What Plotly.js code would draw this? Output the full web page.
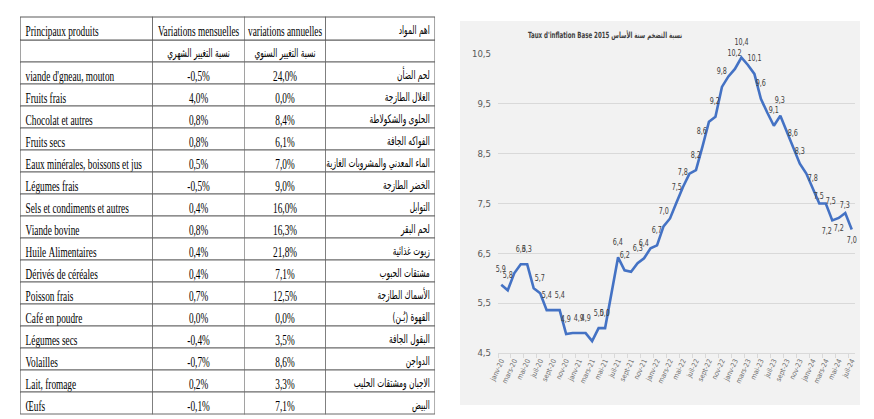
<!DOCTYPE html>
<html><head><meta charset="utf-8">
<script src="https://cdn.plot.ly/plotly-3.0.1.min.js"></script>
<style>
html,body{margin:0;padding:0;background:#fff;width:874px;height:419px;overflow:hidden;}
#table{position:absolute;left:20px;top:16px;width:670px;height:402px;transform:scaleX(0.62);transform-origin:0 0;}
#chart{position:absolute;left:460px;top:21px;width:400px;height:384px;}
#chart .gtitle{transform:scaleX(0.72);transform-box:fill-box;transform-origin:left center;}
#chart .annotation-text{transform:scaleX(0.75);transform-box:fill-box;transform-origin:center;}
</style></head><body>
<div id="table"></div><div id="chart"></div>
<script>
// ---------- table data ----------
const headerFr = ["Principaux produits", "Variations mensuelles", "variations annuelles", "اهم المواد"];
const headerAr = ["", "نسبة التغيير الشهري", "نسبة التغيير السنوي", ""];
const productsFr = ["viande d'gneau, mouton", "Fruits frais", "Chocolat et autres", "Fruits secs",
  "Eaux minérales, boissons et jus", "Légumes frais", "Sels et condiments et autres", "Viande bovine",
  "Huile Alimentaires", "Dérivés de céréales", "Poisson frais", "Café en poudre", "Légumes secs",
  "Volailles", "Lait, fromage", "Œufs"];
const productsAr = ["لحم الضأن", "الغلال الطازجة", "الحلوى والشكولاطة", "الفواكه الجافة",
  "الماء المعدني والمشروبات الغازية", "الخضر الطازجة", "التوابل", "لحم البقر", "زيوت غذائية",
  "مشتقات الحبوب", "الأسماك الطازجة", "القهوة (بُـن)", "البقول الجافة", "الدواجن",
  "الاجبان ومشتقات الحليب", "البيض"];
const monthlyChange = [-0.5, 4.0, 0.8, 0.8, 0.5, -0.5, 0.4, 0.8, 0.4, 0.4, 0.7, 0.0, -0.4, -0.7, 0.2, -0.1];
const annualChange = [24.0, 0.0, 8.4, 6.1, 7.0, 9.0, 16.0, 16.3, 21.8, 7.1, 12.5, 0.0, 3.5, 8.6, 3.3, 7.1];

// ---------- chart data ----------
const chartTitle = "Taux d'inflation Base 2015 نسبة التضخم سنة الأساس";
const months = [
  "janv-20","févr-20","mars-20","avr-20","mai-20","juin-20","juil-20","août-20","sept-20","oct-20","nov-20","déc-20",
  "janv-21","févr-21","mars-21","avr-21","mai-21","juin-21","juil-21","août-21","sept-21","oct-21","nov-21","déc-21",
  "janv-22","févr-22","mars-22","avr-22","mai-22","juin-22","juil-22","août-22","sept-22","oct-22","nov-22","déc-22",
  "janv-23","févr-23","mars-23","avr-23","mai-23","juin-23","juil-23","août-23","sept-23","oct-23","nov-23","déc-23",
  "janv-24","févr-24","mars-24","avr-24","mai-24","juin-24","juil-24"];
const inflation = [
  5.87, 5.76, 6.1, 6.28, 6.28, 5.8, 5.7, 5.36, 5.36, 5.36, 4.88, 4.9,
  4.9, 4.9, 4.74, 5.0, 5.0, 5.75, 6.42, 6.16, 6.13, 6.3, 6.4, 6.6,
  6.66, 7.04, 7.2, 7.52, 7.83, 8.1, 8.17, 8.64, 9.14, 9.24, 9.84, 10.05,
  10.2, 10.43, 10.28, 10.1, 9.6, 9.32, 9.06, 9.26, 8.93, 8.61, 8.3, 8.1,
  7.8, 7.5, 7.5, 7.16, 7.21, 7.31, 6.98];
const labelledIdx = [0,1,3,4,6,7,9,10,12,13,15,16,18,19,21,22,24,25,27,28,30,31,33,34,36,37,39,40,42,43,45,46,48,49,50,51,52,53,54];

// ---------- styles ----------
const SERIF = '"Liberation Serif", "Times New Roman", serif';
const ARAB = '"DejaVu Sans", sans-serif';
const NARROW = '"Liberation Sans Narrow", "DejaVu Sans Condensed", "Arial Narrow", "Liberation Sans", sans-serif';
const labelShift = {46:[0,13], 48:[0,11], 49:[0,8], 50:[5,3], 51:[-5,-10], 52:[0,-10], 53:[0,8], 54:[0,-10]};

const noWrap = s => s.replace(/ /g, '\u00a0');
const fmtPct = v => v.toFixed(1).replace('.', ',') + '%';
const fmtNum = v => v.toFixed(1).replace('.', ',');

// ---------- table ----------
const nRows = productsFr.length + 1;
const colVals = [
  [headerAr[0]].concat(productsFr),
  [headerAr[1]].concat(monthlyChange.map(fmtPct)),
  [headerAr[2]].concat(annualChange.map(fmtPct)),
  [headerAr[3]].concat(productsAr)
].map(col => col.map(noWrap));
const rowSizes = (first, rest) => [first].concat(Array(nRows - 1).fill(rest));
Plotly.newPlot('table', [{
  type: 'table',
  columnwidth: [213, 148, 131, 176],
  header: {
    values: headerFr.map(h => [noWrap(h)]),
    align: ['left', 'center', 'center', 'right'],
    height: 23,
    line: {color: '#5a5a5a', width: 1},
    fill: {color: '#ffffff'},
    font: {family: [SERIF, SERIF, SERIF, ARAB], size: [15, 15, 15, 12], color: '#000'}
  },
  cells: {
    values: colVals,
    align: ['left', 'center', 'center', 'right'],
    height: 22,
    line: {color: '#6a6a6a', width: 1},
    fill: {color: '#ffffff'},
    font: {
      family: [SERIF, rowSizes(ARAB, SERIF), rowSizes(ARAB, SERIF), ARAB],
      size: [15, rowSizes(12, 15), rowSizes(12, 15), 12],
      color: '#000'
    }
  },
  domain: {x: [0, 1], y: [0, 1]}
}], {
  width: 670, height: 402,
  margin: {l: 1, r: 1, t: 1, b: 1},
  paper_bgcolor: '#ffffff'
}, {staticPlot: true, displayModeBar: false});

// ---------- chart ----------
const annotations = labelledIdx.map(i => {
  const s = labelShift[i] || [0, 16];
  return {
    x: months[i], y: inflation[i], xref: 'x', yref: 'y',
    text: fmtNum(inflation[i]), showarrow: false,
    xshift: s[0], yshift: s[1],
    font: {family: NARROW, size: 9.5, color: '#404040'}
  };
});

Plotly.newPlot('chart', [{
  type: 'scatter', mode: 'lines',
  x: months, y: inflation,
  line: {color: '#4472c4', width: 2.6},
  hoverinfo: 'skip'
}], {
  width: 400, height: 384,
  paper_bgcolor: '#f2f2f2', plot_bgcolor: '#f2f2f2',
  margin: {l: 37.5, r: 5, t: 32.5, b: 52},
  separators: ', ',
  showlegend: false,
  title: {
    text: '<b>' + chartTitle + '</b>',
    font: {family: NARROW, size: 8.5, color: '#404040'},
    x: 0.17, xanchor: 'left', xref: 'container',
    y: 0.963, yanchor: 'middle', yref: 'container'
  },
  xaxis: {
    type: 'category', range: [-0.5, months.length - 0.5],
    tickmode: 'linear', tick0: 0, dtick: 2, tickson: 'boundaries',
    ticks: 'outside', ticklen: 4, tickcolor: '#d9d9d9',
    showline: true, linecolor: '#d9d9d9', linewidth: 1,
    showgrid: false, tickangle: -65,
    tickfont: {family: NARROW, size: 7, color: '#6f6f6f'}
  },
  yaxis: {
    range: [4.5, 10.5], tickmode: 'linear', tick0: 4.5, dtick: 1,
    tickformat: '.1f', gridcolor: '#d9d9d9', gridwidth: 1,
    zeroline: false, showline: false, ticks: '', ticklabelstandoff: 6,
    tickfont: {family: NARROW, size: 9.5, color: '#595959'}
  },
  annotations: annotations
}, {staticPlot: true, displayModeBar: false});
</script>
</body></html>
